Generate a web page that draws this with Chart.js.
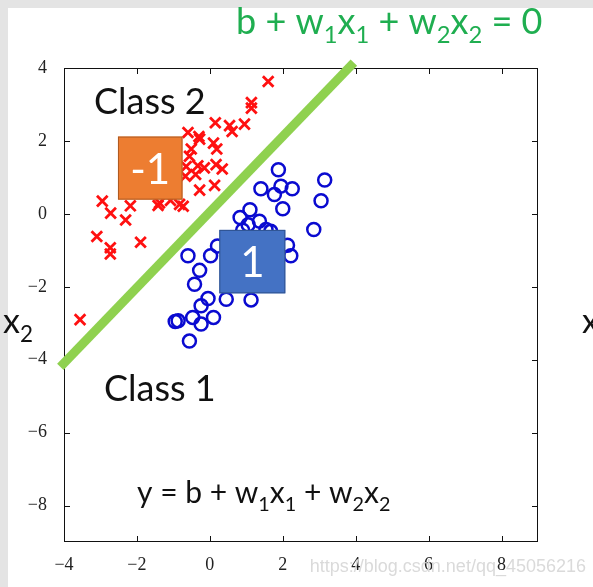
<!DOCTYPE html>
<html>
<head>
<meta charset="utf-8">
<script src="https://cdn.jsdelivr.net/npm/chart.js@4.4.1/dist/chart.umd.min.js"></script>
<style>
    html, body { margin: 0; padding: 0; background: #fff; }
    #wrap { position: relative; width: 593px; height: 587px; }
</style>
</head>
<body>
<div id="wrap"><canvas id="chart" width="593" height="587"></canvas></div>
<script>
/* Linear classifier picture: two classes and the decision line */

const xTicks = [-4, -2, 0, 2, 4, 6, 8];
const yTicks = [-8, -6, -4, -2, 0, 2, 4];

// class 2 (red crosses), [x1, x2]
const class2 = [
    [1.6, 3.63], [1.14, 3.05], [1.14, 2.9], [0.15, 2.5], [0.54, 2.42], [0.61, 2.26],
    [0.95, 2.46], [-0.6, 2.23], [-0.3, 2.12], [-0.28, 2.05], [0.1, 1.94], [0.19, 1.78],
    [-0.51, 1.78], [-0.56, 1.58], [-0.65, 1.3], [-0.33, 1.32], [-0.15, 1.26], [0.17, 1.35],
    [0.34, 1.23], [-0.39, 1.08], [-0.67, 1.03], [0.13, 0.78], [-0.28, 0.65], [-2.95, 0.35],
    [-2.72, 0.02], [-2.31, -0.17], [-2.18, 0.22], [-1.42, 0.23], [-0.73, 0.21], [-3.1, -0.62],
    [-2.73, -0.93], [-2.73, -1.1], [-1.9, -0.78], [-3.56, -2.9], [-1.08, 0.37], [-1.38, 0.3],
    [-0.83, 0.26]
];

// class 1 (blue circles), [x1, x2]
const class1 = [
    [1.88, 1.21], [1.4, 0.69], [1.77, 0.53], [1.95, 0.76], [2.26, 0.69], [3.15, 0.93],
    [3.05, 0.36], [2.0, 0.14], [2.85, -0.43], [1.1, 0.11], [0.83, -0.1], [1.36, -0.2],
    [1.05, -0.3], [1.54, -0.43], [2.13, -0.86], [2.22, -1.15], [-0.6, -1.15], [0.02, -1.15],
    [0.21, -0.88], [-0.28, -1.55], [-0.42, -1.93], [-0.05, -2.32], [-0.24, -2.52], [0.45, -2.34],
    [1.13, -2.36], [-0.87, -2.93], [-0.95, -2.95], [-0.47, -2.84], [-0.24, -3.02], [0.1, -2.84],
    [-0.56, -3.49], [0.9, -0.45], [1.67, -0.48]
];

// decision boundary b + w1x1 + w2x2 = 0, end points
const boundary = [[-4.1, -4.2], [3.95, 4.15]];

// output boxes: [x from, x to, y from, y to, label]
const outBoxes = [
    [-2.52, -0.75, 0.39, 2.12, "-1"],
    [0.26, 2.07, -2.18, -0.44, "1"]
];

const toPts = (arr) => arr.map(([x, y]) => ({x: x, y: y}));
const minus = (v) => String(v).replace("-", "\u2212");

/* draws text with subscript runs. parts: strings, or [string] for subscript */
function drawRich(ctx, parts, x, y, size, family, color) {
    ctx.save();
    ctx.fillStyle = color;
    ctx.textBaseline = "alphabetic";
    ctx.textAlign = "left";
    parts.forEach((p) => {
        const sub = Array.isArray(p);
        const txt = sub ? p[0] : p;
        const s = sub ? size * 0.66 : size;
        ctx.font = s + "px " + family;
        ctx.fillText(txt, x, sub ? y + size * 0.26 : y);
        x += ctx.measureText(txt).width;
    });
    ctx.restore();
}

const CALIBRI = "Lato, 'Open Sans', sans-serif";

const backdrop = {
    id: "backdrop",
    beforeDraw(chart) {
        const ctx = chart.ctx;
        ctx.save();
        ctx.fillStyle = "#ffffff";
        ctx.fillRect(0, 0, chart.width, chart.height);
        ctx.fillStyle = "#e4e4e4";
        ctx.fillRect(0, 0, chart.width, 8);
        ctx.fillRect(0, 0, 8, chart.height);
        ctx.restore();
    },
    beforeDatasetsDraw(chart) {
        const ctx = chart.ctx;
        const a = chart.chartArea;
        const xs = chart.scales.x, ys = chart.scales.y;
        ctx.save();
        ctx.strokeStyle = "#111";
        ctx.lineWidth = 1;
        ctx.strokeRect(a.left + 0.5, a.top + 0.5, a.right - a.left - 1, a.bottom - a.top - 1);
        ctx.beginPath();
        xTicks.forEach((v) => {
            const px = Math.round(xs.getPixelForValue(v)) + 0.5;
            ctx.moveTo(px, a.bottom); ctx.lineTo(px, a.bottom - 6);
            ctx.moveTo(px, a.top); ctx.lineTo(px, a.top + 6);
        });
        yTicks.forEach((v) => {
            const py = Math.round(ys.getPixelForValue(v)) + 0.5;
            ctx.moveTo(a.left, py); ctx.lineTo(a.left + 6, py);
            ctx.moveTo(a.right, py); ctx.lineTo(a.right - 6, py);
        });
        ctx.stroke();
        ctx.restore();
    }
};

const notes = {
    id: "notes",
    afterDatasetsDraw(chart) {
        const ctx = chart.ctx;
        const xs = chart.scales.x, ys = chart.scales.y;
        const fills = ["#ed7d31", "#4472c4"];
        const edges = ["#ae5a21", "#2f528f"];
        outBoxes.forEach((b, i) => {
            const l = xs.getPixelForValue(b[0]), r = xs.getPixelForValue(b[1]);
            const t = ys.getPixelForValue(b[3]), btm = ys.getPixelForValue(b[2]);
            ctx.save();
            ctx.fillStyle = fills[i];
            ctx.fillRect(l, t, r - l, btm - t);
            ctx.strokeStyle = edges[i];
            ctx.lineWidth = 1;
            ctx.strokeRect(l + 0.5, t + 0.5, r - l - 1, btm - t - 1);
            ctx.fillStyle = "#ffffff";
            ctx.font = "42px " + CALIBRI;
            ctx.textAlign = "center";
            ctx.textBaseline = "middle";
            ctx.fillText(b[4], (l + r) / 2, (t + btm) / 2 + 2);
            ctx.restore();
        });

        ctx.save();
        ctx.fillStyle = "#111";
        ctx.font = "36px " + CALIBRI;
        ctx.textAlign = "left";
        ctx.textBaseline = "middle";
        ctx.fillText("Class 2", 94, 102);
        ctx.fillText("Class 1", 104, 389);
        ctx.restore();

        drawRich(ctx, ["y = b + w", ["1"], "x", ["1"], " + w", ["2"], "x", ["2"]],
            137, 503, 30, CALIBRI, "#111");
        drawRich(ctx, ["b + w", ["1"], "x", ["1"], " + w", ["2"], "x", ["2"], " = 0"],
            236, 34, 36, CALIBRI, "#1fae50");
        drawRich(ctx, ["x", ["2"]], 3, 333, 34, CALIBRI, "#111");
        drawRich(ctx, ["x"], 582, 333, 34, CALIBRI, "#111");

        ctx.save();
        ctx.fillStyle = "#dadada";
        ctx.font = "18px 'Liberation Sans', Arial, sans-serif";
        ctx.textAlign = "right";
        ctx.textBaseline = "alphabetic";
        ctx.fillText("https://blog.csdn.net/qq_45056216", 586, 572);
        ctx.restore();
    }
};

window.addEventListener("load", () => {
    new Chart(document.getElementById("chart"), {
        type: "scatter",
        data: {
            datasets: [
                {
                    label: "class 2",
                    data: toPts(class2),
                    pointStyle: "crossRot",
                    pointRadius: 7.5,
                    pointBorderWidth: 2.8,
                    borderColor: "#ff1010",
                    backgroundColor: "#ff1010",
                },
                {
                    label: "class 1",
                    data: toPts(class1),
                    pointStyle: "circle",
                    pointRadius: 6.5,
                    pointBorderWidth: 2.5,
                    borderColor: "#0a0ad0",
                    backgroundColor: "rgba(0,0,0,0)",
                },
                {
                    label: "boundary",
                    type: "line",
                    data: toPts(boundary),
                    borderColor: "#8fd14f",
                    borderWidth: 9,
                    pointRadius: 0,
                    borderCapStyle: "butt",
                    clip: false,
                }
            ]
        },
        options: {
            responsive: false,
            animation: false,
            events: [],
            layout: {padding: {top: 68, right: 55, left: 0, bottom: 0}},
            plugins: {legend: {display: false}, tooltip: {enabled: false}},
            scales: {
                x: {
                    type: "linear",
                    min: -4, max: 9,
                    grid: {display: false},
                    border: {display: false},
                    afterFit: (s) => { s.height = 45; },
                    ticks: {
                        stepSize: 2,
                        includeBounds: false,
                        padding: 4,
                        color: "#222",
                        font: {family: "'Liberation Serif', serif", size: 18},
                        callback: (v) => minus(v),
                    },
                },
                y: {
                    type: "linear",
                    min: -9, max: 4,
                    grid: {display: false},
                    border: {display: false},
                    afterFit: (s) => { s.width = 64; },
                    ticks: {
                        stepSize: 2,
                        includeBounds: false,
                        padding: 9,
                        color: "#222",
                        font: {family: "'Liberation Serif', serif", size: 18},
                        callback: (v) => minus(v),
                    },
                },
            },
        },
        plugins: [backdrop, notes],
    });
});
</script>
</body>
</html>
